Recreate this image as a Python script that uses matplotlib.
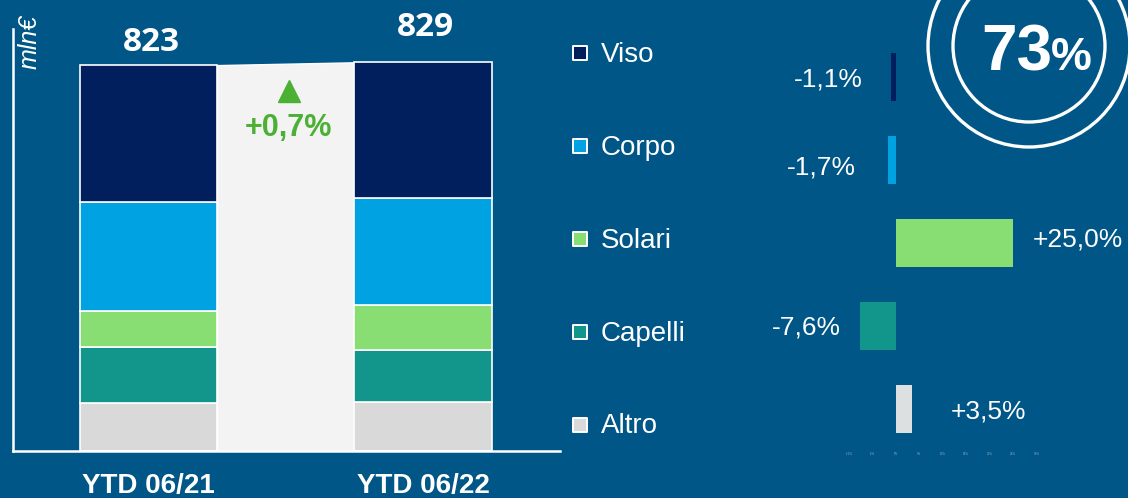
import matplotlib
matplotlib.use("Agg")
import matplotlib.pyplot as plt
from matplotlib.patches import Circle

# ---------------- data ----------------
periods = ["YTD 06/21", "YTD 06/22"]
categories = ["Viso", "Corpo", "Solari", "Capelli", "Altro"]          # top -> bottom
values_2021 = [293, 232, 77, 119, 102]
values_2022 = [290, 228, 96, 110, 105]
totals = [823, 829]
total_growth = "+0,7%"
changes = [-1.1, -1.7, 25.0, -7.6, 3.5]                                # % change per category
change_labels = ["-1,1%", "-1,7%", "+25,0%", "-7,6%", "+3,5%"]
axis_ticks = [-10, -5, 0, 5, 10, 15, 20, 25, 30]
share_value = "73"
unit_label = "mln€"

# ---------------- style ----------------
BG = "#005686"
colors = {"Viso": "#001f5c", "Corpo": "#00a2e1", "Solari": "#88de72",
          "Capelli": "#12968c", "Altro": "#d9d9d9"}
right_colors = {"Viso": "#001f5c", "Corpo": "#00a2e1", "Solari": "#88de72",
                "Capelli": "#12968c", "Altro": "#dde0e0"}
GREEN = "#4cb035"
SANS = "Liberation Sans"

W, H = 1128, 498
fig = plt.figure(figsize=(W / 100, H / 100), dpi=100, facecolor=BG)


def px_axes(x0, y0, x1, y1):
    return fig.add_axes([x0 / W, 1 - y1 / H, (x1 - x0) / W, (y1 - y0) / H])


# ---------------- left stacked bars ----------------
ax = px_axes(13, 29, 560, 451)
ax.set_facecolor("none")
ax.set_xlim(-0.4936, 1.499)
ax.set_ylim(0, 900)
bw = 0.5
xs = [0, 1]

# connecting band
ax.fill_between([xs[0] + bw / 2, xs[1] - bw / 2], [0, 0], totals,
                color="#f3f3f3", edgecolor="white", linewidth=1, zorder=1)

for xi, vals in zip(xs, [values_2021, values_2022]):
    bottom = 0
    for cat, v in zip(categories[::-1], vals[::-1]):
        ax.bar(xi, v, bw, bottom=bottom, color=colors[cat], edgecolor="white",
               linewidth=1.2, zorder=2)
        bottom += v

label_offsets = [(3, 23), (2.5, 35)]
for xi, t, (dx, dy) in zip(xs, totals, label_offsets):
    ax.annotate(f"{t}", (xi, t), xytext=(dx, dy), textcoords="offset pixels",
                ha="center", va="center", color="white", fontsize=24,
                fontweight="bold", family="Open Sans", annotation_clip=False)

ax.plot([0.51], [768], marker="^", markersize=16, color=GREEN, zorder=3)
ax.text(0.51, 688, total_growth, ha="center", va="center", color=GREEN,
        fontsize=22, fontweight="bold", family=SANS, zorder=3)

for s in ["top", "right"]:
    ax.spines[s].set_visible(False)
for s in ["left", "bottom"]:
    ax.spines[s].set_color("white")
    ax.spines[s].set_linewidth(1.8)
ax.set_yticks([])
ax.set_xticks(xs)
ax.set_xticklabels(periods, color="white", fontsize=20, fontweight="bold", family=SANS)
ax.tick_params(axis="x", length=0, pad=16)

fig.text(30 / W, 1 - 42 / H, unit_label, rotation=90, ha="center", va="center",
         color="white", fontsize=18, style="italic", family=SANS)

# ---------------- legend column ----------------
lax = px_axes(560, 7.1, 760, 470.9)
lax.set_facecolor("none")
lax.set_xlim(0, 200)
lax.set_ylim(len(categories) - 0.5, -0.5)
lax.axis("off")
for i, cat in enumerate(categories):
    lax.scatter([20], [i], marker="s", s=100, color=colors[cat], edgecolors="white",
                linewidths=1.4, zorder=3)
    lax.text(41, i + 0.02, cat, ha="left", va="center", color="white", fontsize=20,
             family=SANS)

# ---------------- right change bars ----------------
rax = px_axes(780, 35.5, 1128, 450.5)
rax.set_facecolor("none")
rax.set_xlim(-24.79, 49.57)
rax.set_ylim(len(categories) - 0.5, -0.5)
ypos = list(range(len(categories)))
rax.barh(ypos, changes, height=0.578, color=[right_colors[c] for c in categories], zorder=2)

label_dx_px = [28, 32, 20, 20, 38]
label_dy_px = [2, 7, -4, 1, 2]
for y, v, lab, dx, dy in zip(ypos, changes, change_labels, label_dx_px, label_dy_px):
    sign = 1 if v >= 0 else -1
    rax.annotate(lab, (v, y), xytext=(sign * dx, -dy), textcoords="offset pixels",
                 ha="left" if v >= 0 else "right", va="center", color="white",
                 fontsize=19, family=SANS, annotation_clip=False)

for s in rax.spines.values():
    s.set_visible(False)
rax.set_yticks([])
rax.set_xticks(axis_ticks)
rax.set_xticklabels([f"{t}%" for t in axis_ticks], fontsize=2, color="#8fb0c8")
rax.tick_params(axis="x", length=0, pad=1)

# ---------------- share circles ----------------
oax = fig.add_axes([0, 0, 1, 1])
oax.set_xlim(0, W)
oax.set_ylim(H, 0)
oax.axis("off")
oax.set_facecolor("none")
for r in (76, 101):
    oax.add_patch(Circle((1029, 46), r, fill=False, edgecolor="white", linewidth=2.4,
                         clip_on=False))
oax.text(1052, 70, share_value, ha="right", va="baseline", color="white",
         fontsize=46, fontweight="bold", family=SANS)
oax.text(1051, 70, "%", ha="left", va="baseline", color="white",
         fontsize=33, fontweight="bold", family=SANS)

fig.savefig("out.png", dpi=100, facecolor=BG)
